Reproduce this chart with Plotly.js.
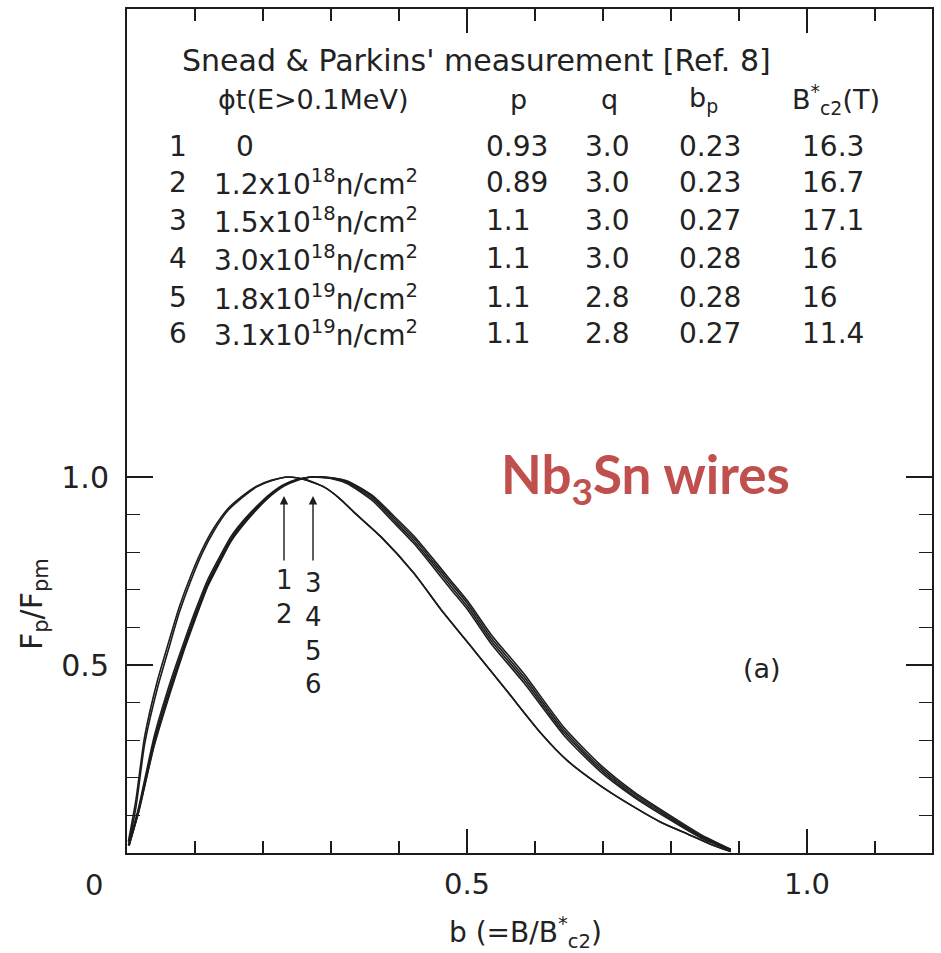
<!DOCTYPE html>
<html>
<head>
<meta charset="utf-8">
<script src="https://cdn.plot.ly/plotly-3.0.1.min.js"></script>
<style>html,body{margin:0;padding:0;background:#fff;}#chart{width:941px;height:953px;}</style>
</head>
<body>
<div id="chart"></div>
<script>
// ---- Data ----
// Curves 1,2 (peak near b = 0.23)
var bA  = [0.002, 0.013, 0.026, 0.045, 0.060, 0.077, 0.094, 0.110, 0.128, 0.148, 0.168, 0.190, 0.212, 0.237, 0.262, 0.290, 0.312, 0.334, 0.374, 0.422, 0.462, 0.510, 0.560, 0.609, 0.648, 0.697, 0.746, 0.785, 0.825, 0.860, 0.888];
var fA1 = [0.02, 0.12, 0.29, 0.44, 0.535, 0.64, 0.725, 0.795, 0.857, 0.91, 0.943, 0.973, 0.99, 1.0, 0.993, 0.973, 0.944, 0.906, 0.840, 0.744, 0.647, 0.54, 0.428, 0.318, 0.245, 0.178, 0.122, 0.082, 0.050, 0.022, 0.004];
var fA2 = [0.03, 0.14, 0.31, 0.46, 0.553, 0.655, 0.738, 0.805, 0.865, 0.915, 0.947, 0.975, 0.991, 1.0, 0.993, 0.973, 0.944, 0.906, 0.840, 0.744, 0.647, 0.54, 0.428, 0.318, 0.245, 0.178, 0.122, 0.082, 0.050, 0.022, 0.004];
// Curves 3-6 (peak near b = 0.27)
var bB  = [0.003, 0.017, 0.040, 0.065, 0.084, 0.100, 0.119, 0.136, 0.153, 0.173, 0.193, 0.212, 0.231, 0.250, 0.271, 0.300, 0.325, 0.363, 0.388, 0.422, 0.447, 0.476, 0.501, 0.535, 0.584, 0.643, 0.697, 0.746, 0.795, 0.844, 0.888];
var fB3 = [0.02, 0.11, 0.29, 0.44, 0.545, 0.625, 0.715, 0.775, 0.832, 0.88, 0.92, 0.953, 0.978, 0.992, 1.0, 0.997, 0.984, 0.939, 0.893, 0.83, 0.775, 0.71, 0.655, 0.566, 0.46, 0.319, 0.221, 0.152, 0.096, 0.043, 0.008];
var fB4 = [0.02, 0.113, 0.3, 0.45, 0.552, 0.632, 0.72, 0.78, 0.836, 0.884, 0.923, 0.955, 0.979, 0.993, 1.0, 0.998, 0.987, 0.944, 0.899, 0.837, 0.782, 0.718, 0.663, 0.574, 0.468, 0.326, 0.227, 0.157, 0.1, 0.046, 0.009];
var fB5 = [0.03, 0.12, 0.31, 0.462, 0.562, 0.642, 0.728, 0.787, 0.842, 0.888, 0.926, 0.957, 0.98, 0.993, 1.0, 0.998, 0.989, 0.948, 0.904, 0.843, 0.789, 0.725, 0.67, 0.582, 0.476, 0.333, 0.233, 0.162, 0.104, 0.049, 0.01];
var fB6 = [0.02, 0.108, 0.285, 0.435, 0.54, 0.62, 0.71, 0.771, 0.829, 0.877, 0.918, 0.951, 0.976, 0.991, 1.0, 0.996, 0.981, 0.934, 0.887, 0.823, 0.768, 0.702, 0.647, 0.558, 0.452, 0.312, 0.215, 0.148, 0.092, 0.04, 0.007];

// Table in the figure
var tableTitle = "Snead &amp; Parkins' measurement [Ref. 8]";
var rowNums  = ['1', '2', '3', '4', '5', '6'];
var fluence  = ['0', '1.2x10<sup>18</sup>n/cm<sup>2</sup>', '1.5x10<sup>18</sup>n/cm<sup>2</sup>', '3.0x10<sup>18</sup>n/cm<sup>2</sup>', '1.8x10<sup>19</sup>n/cm<sup>2</sup>', '3.1x10<sup>19</sup>n/cm<sup>2</sup>'];
var pVals    = ['0.93', '0.89', '1.1', '1.1', '1.1', '1.1'];
var qVals    = ['3.0', '3.0', '3.0', '3.0', '2.8', '2.8'];
var bpVals   = ['0.23', '0.23', '0.27', '0.28', '0.28', '0.27'];
var bc2Vals  = ['16.3', '16.7', '17.1', '16', '16', '11.4'];
var headers  = ['\u03d5t(E&gt;0.1MeV)', 'p', 'q', 'b<sub>p</sub>', 'B<sup>*</sup><sub>c2</sub>(T)'];

// Axis ticks
var xTickVals = [0.5, 1.0];
var xTickText = ['0.5', '1.0'];
var yTickVals = [0.5, 1.0];
var yTickText = ['0.5', '1.0'];
var yMinorVals = [0.1, 0.2, 0.3, 0.4, 0.6, 0.7, 0.8, 0.9];

// ---- Layout helpers (pixel -> paper for annotation placement) ----
var L = 127, T = 9, R = 932, B = 853;
var XU = 680, YU = 376;
function px2x(px) { return (px - L) / (R - L); }
function py2y(py) { return (B - py) / (B - T); }

var ink = '#1c1c1c';
var txt = '#222222';
var FONT = 'DejaVu Sans, Liberation Sans, sans-serif';

function line(x, y, w) {
  return {x: x, y: y, type: 'scatter', mode: 'lines', line: {color: ink, width: w, shape: 'spline', smoothing: 0.6}, hoverinfo: 'skip', showlegend: false};
}
var traces = [
  line(bA, fA1, 1.6), line(bA, fA2, 1.6),
  line(bB, fB3, 1.6), line(bB, fB4, 1.6), line(bB, fB5, 1.6), line(bB, fB6, 1.6)
];

var ann = [];
function T_(px, py, text, size, xanchor, extra) {
  var a = {x: px2x(px), y: py2y(py), xref: 'paper', yref: 'paper', text: text, showarrow: false,
           xanchor: xanchor || 'left', yanchor: 'middle', font: {family: FONT, size: size, color: txt}};
  if (extra) for (var k in extra) a[k] = extra[k];
  ann.push(a);
}
// Table
T_(180, 60, tableTitle, 30, 'left');
T_(216, 100, headers[0], 27, 'left');
T_(518, 100, headers[1], 27, 'center');
T_(609, 100, headers[2], 27, 'center');
T_(703, 100, headers[3], 27, 'center');
T_(790, 100, headers[4], 27, 'left');
var rowY = [147, 182, 220, 258, 297, 333];
for (var i = 0; i < rowNums.length; i++) {
  T_(178, rowY[i], rowNums[i], 28, 'center');
  if (i === 0) T_(245, rowY[i], fluence[i], 28, 'center');
  else T_(212, rowY[i], fluence[i], 28, 'left');
  T_(484, rowY[i], pVals[i], 28, 'left');
  T_(583, rowY[i], qVals[i], 28, 'left');
  T_(677, rowY[i], bpVals[i], 28, 'left');
  T_(800, rowY[i], bc2Vals[i], 28, 'left');
}
// Red label
T_(645, 477, '<b>Nb<sub>3</sub>Sn wires</b>', 53, 'center', {font: {family: 'Lato, Open Sans, sans-serif', size: 53, color: '#C0504D'}});
// (a)
T_(762, 668, '(a)', 27, 'center');
// Arrows
function arrow(px, pyTip, pyTail) {
  ann.push({x: px2x(px), y: py2y(pyTip), ax: px2x(px), ay: py2y(pyTail), xref: 'paper', yref: 'paper', axref: 'paper', ayref: 'paper',
    text: '', showarrow: true, arrowhead: 2, arrowsize: 1.2, arrowwidth: 1.4, arrowcolor: ink});
}
arrow(284, 496, 562);
arrow(313, 496, 562);
T_(284, 597, '1<br>2', 26, 'center');
T_(313, 633, '3<br>4<br>5<br>6', 26, 'center');
// Corner "0" label
T_(94, 885, '0', 29, 'center');
// Axis titles
T_(525, 932, 'b (=B/B<sup>*</sup><sub>c2</sub>)', 28, 'center');
T_(33, 604, 'F<sub>p</sub>/F<sub>pm</sub>', 30, 'center', {textangle: -90});

var layout = {
  width: 941, height: 953,
  margin: {l: L, r: 941 - R, t: T, b: 953 - B, pad: 0},
  paper_bgcolor: '#ffffff', plot_bgcolor: '#ffffff',
  showlegend: false,
  xaxis: {
    range: [0, (R - L) / XU], showgrid: false, zeroline: false,
    showline: true, linecolor: ink, linewidth: 2, mirror: 'ticks',
    ticks: 'inside', ticklen: 24, tickwidth: 1.6, tickcolor: ink,
    tickmode: 'array', tickvals: xTickVals, ticktext: xTickText,
    tickfont: {family: FONT, size: 29, color: txt}, ticklabelstandoff: 4,
    minor: {ticks: 'inside', dtick: 0.1, tick0: 0, ticklen: 12, tickwidth: 1.4, tickcolor: ink, showgrid: false}
  },
  yaxis: {
    range: [0, (B - T) / YU], showgrid: false, zeroline: false,
    showline: true, linecolor: ink, linewidth: 2, mirror: 'ticks',
    ticks: 'inside', ticklen: 26, tickwidth: 1.6, tickcolor: ink,
    tickmode: 'array', tickvals: yTickVals, ticktext: yTickText,
    tickfont: {family: FONT, size: 30, color: txt}, ticklabelstandoff: 10,
    minor: {ticks: 'inside', tickmode: 'array', tickvals: yMinorVals, ticklen: 13, tickwidth: 1.4, tickcolor: ink, showgrid: false}
  },
  annotations: ann
};
Plotly.newPlot('chart', traces, layout, {staticPlot: true, displayModeBar: false});
</script>
</body>
</html>
